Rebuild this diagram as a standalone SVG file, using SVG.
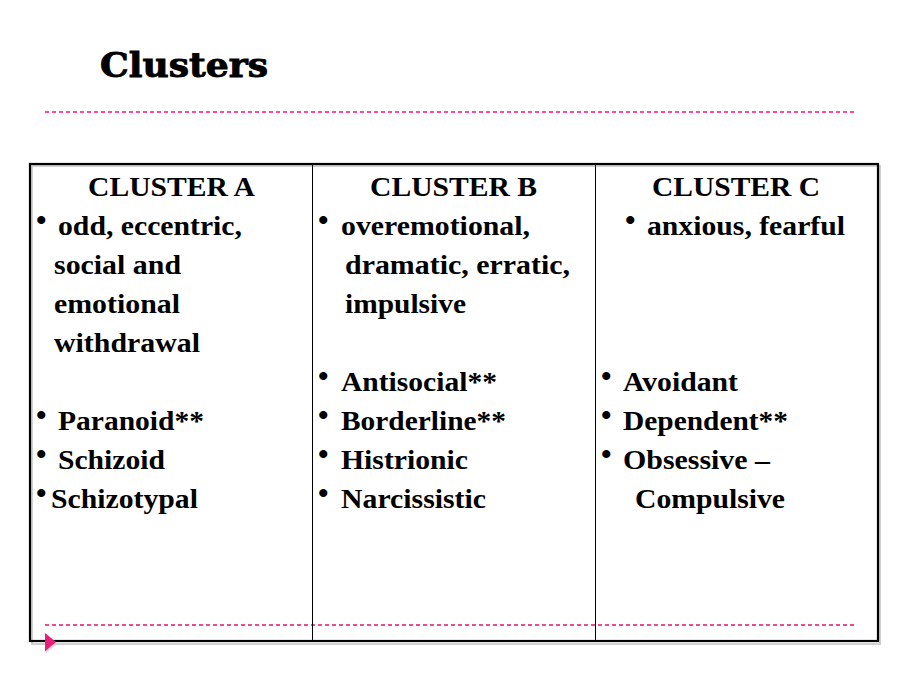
<svg xmlns="http://www.w3.org/2000/svg" width="900" height="675" viewBox="0 0 900 675">
<style>
.t{font-family:"Liberation Serif","Times New Roman",serif;font-weight:bold;font-size:27px;fill:#000}
.b{font-family:"Liberation Serif","Times New Roman",serif;font-weight:bold;font-size:30px;fill:#000}
.h{font-family:"DejaVu Serif","Liberation Serif",serif;font-weight:bold;font-size:34px;fill:#000;stroke:#000;stroke-width:0.9}
.dash{stroke-width:1.5;stroke-dasharray:4 3;fill:none}
</style>
<rect width="900" height="675" fill="#fff"/>
<g id="title"><text class="h" x="100" y="77" textLength="168" lengthAdjust="spacingAndGlyphs">Clusters</text></g>
<g id="decor">
<line class="dash" x1="45" y1="112" x2="856" y2="112" stroke="#FF0F86"/>
<line class="dash" x1="45" y1="625" x2="856" y2="625" stroke="#E3136A"/>
</g>
<g id="table">
<rect x="32" y="166" width="848" height="478" fill="none" stroke="#d0d0d0" stroke-width="2"/>
<rect x="30" y="164" width="848" height="477" fill="none" stroke="#000" stroke-width="2.2"/>
<line x1="312.5" y1="164" x2="312.5" y2="641" stroke="#000" stroke-width="1"/>
<line x1="595.5" y1="164" x2="595.5" y2="641" stroke="#000" stroke-width="1"/>
</g>
<g id="arrow"><polygon points="46,634 46,653 58,644" fill="#c8c8c8" opacity="0.6"/><polygon points="45,633 45,651.5 56,642" fill="#E6207A"/></g>
<g id="clusterA">
<text class="t" x="88" y="196" textLength="167" lengthAdjust="spacingAndGlyphs">CLUSTER A</text>
<text class="b" x="36" y="230">•</text>
<text class="t" x="58" y="235" textLength="184" lengthAdjust="spacingAndGlyphs">odd, eccentric,</text>
<text class="t" x="54" y="274" textLength="127" lengthAdjust="spacingAndGlyphs">social and</text>
<text class="t" x="54" y="313" textLength="126" lengthAdjust="spacingAndGlyphs">emotional</text>
<text class="t" x="54" y="352" textLength="146" lengthAdjust="spacingAndGlyphs">withdrawal</text>
<text class="b" x="36" y="425">•</text>
<text class="t" x="58" y="430" textLength="146" lengthAdjust="spacingAndGlyphs">Paranoid**</text>
<text class="b" x="36" y="464">•</text>
<text class="t" x="58" y="469" textLength="107" lengthAdjust="spacingAndGlyphs">Schizoid</text>
<text class="b" x="36" y="503">•</text>
<text class="t" x="51" y="508" textLength="147" lengthAdjust="spacingAndGlyphs">Schizotypal</text>
</g>
<g id="clusterB">
<text class="t" x="370" y="196" textLength="167" lengthAdjust="spacingAndGlyphs">CLUSTER B</text>
<text class="b" x="318" y="230">•</text>
<text class="t" x="341" y="235" textLength="189" lengthAdjust="spacingAndGlyphs">overemotional,</text>
<text class="t" x="345" y="274" textLength="225" lengthAdjust="spacingAndGlyphs">dramatic, erratic,</text>
<text class="t" x="345" y="313" textLength="121" lengthAdjust="spacingAndGlyphs">impulsive</text>
<text class="b" x="318" y="386">•</text>
<text class="t" x="341" y="391" textLength="156" lengthAdjust="spacingAndGlyphs">Antisocial**</text>
<text class="b" x="318" y="425">•</text>
<text class="t" x="341" y="430" textLength="165" lengthAdjust="spacingAndGlyphs">Borderline**</text>
<text class="b" x="318" y="464">•</text>
<text class="t" x="341" y="469" textLength="127" lengthAdjust="spacingAndGlyphs">Histrionic</text>
<text class="b" x="318" y="503">•</text>
<text class="t" x="341" y="508" textLength="145" lengthAdjust="spacingAndGlyphs">Narcissistic</text>
</g>
<g id="clusterC">
<text class="t" x="652" y="196" textLength="168" lengthAdjust="spacingAndGlyphs">CLUSTER C</text>
<text class="b" x="625" y="230">•</text>
<text class="t" x="647" y="235" textLength="198" lengthAdjust="spacingAndGlyphs">anxious, fearful</text>
<text class="b" x="601" y="386">•</text>
<text class="t" x="623" y="391" textLength="115" lengthAdjust="spacingAndGlyphs">Avoidant</text>
<text class="b" x="601" y="425">•</text>
<text class="t" x="623" y="430" textLength="165" lengthAdjust="spacingAndGlyphs">Dependent**</text>
<text class="b" x="601" y="464">•</text>
<text class="t" x="623" y="469" textLength="147" lengthAdjust="spacingAndGlyphs">Obsessive –</text>
<text class="t" x="635" y="508" textLength="150" lengthAdjust="spacingAndGlyphs">Compulsive</text>
</g>
</svg>
